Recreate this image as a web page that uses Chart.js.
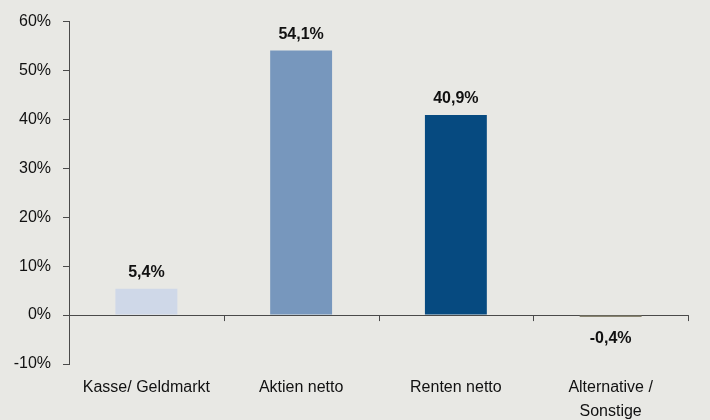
<!DOCTYPE html>
<html>
<head>
<meta charset="utf-8">
<script src="https://cdn.jsdelivr.net/npm/chart.js@4"></script>
<style>
  html, body { margin: 0; padding: 0; background: #e8e8e4; }
  #wrap { width: 710px; height: 420px; }
</style>
</head>
<body>
<div id="wrap"><canvas id="chart" width="710" height="420"></canvas></div>
<script>
const categories = ["Kasse/ Geldmarkt", "Aktien netto", "Renten netto", ["Alternative /", "Sonstige"]];
const values = [5.4, 54.1, 40.9, -0.4];
const barColors = ["#cfd8e8", "#7797bd", "#064a80", "#87836f"];
const yTicks = [-10, 0, 10, 20, 30, 40, 50, 60];

const axisColor = "#4a4a4a";
const fmt = (v) => v.toFixed(1).replace(".", ",") + "%";

// value labels above (or below) each bar
const valueLabels = {
  id: "valueLabels",
  afterDatasetsDraw(chart) {
    const ctx = chart.ctx;
    const meta = chart.getDatasetMeta(0);
    ctx.save();
    ctx.font = "bold 16px 'Liberation Sans', Arial, sans-serif";
    ctx.fillStyle = "#111";
    ctx.textAlign = "center";
    meta.data.forEach((bar, i) => {
      const v = values[i];
      if (v >= 0) {
        ctx.textBaseline = "bottom";
        ctx.fillText(fmt(v), bar.x, bar.y - 8);
      } else {
        ctx.textBaseline = "top";
        ctx.fillText(fmt(v), bar.x, bar.base + 15);
      }
    });
    ctx.restore();
  }
};

// small tick marks at category boundaries on the zero line
const zeroTicks = {
  id: "zeroTicks",
  afterDraw(chart) {
    const ctx = chart.ctx;
    const xs = chart.scales.x;
    const y0 = chart.scales.y.getPixelForValue(0);
    const half = (xs.getPixelForValue(1) - xs.getPixelForValue(0)) / 2;
    ctx.save();
    ctx.strokeStyle = axisColor;
    ctx.lineWidth = 1;
    ctx.beginPath();
    for (let i = 0; i <= categories.length; i++) {
      const px = Math.round(xs.getPixelForValue(i) - half) + 0.5;
      ctx.moveTo(px, y0);
      ctx.lineTo(px, y0 + 6);
    }
    ctx.stroke();
    ctx.restore();
  }
};

new Chart(document.getElementById("chart"), {
  type: "bar",
  data: {
    labels: categories,
    datasets: [{
      data: values,
      backgroundColor: barColors,
      barPercentage: 0.4,
      categoryPercentage: 1.0
    }]
  },
  options: {
    responsive: false,
    animation: false,
    layout: { padding: { top: 16, right: 22, left: 0, bottom: 0 } },
    plugins: { legend: { display: false }, tooltip: { enabled: false } },
    scales: {
      x: {
        grid: { display: false },
        border: { display: false },
        ticks: {
          color: "#111",
          font: { family: "'Liberation Sans', Arial, sans-serif", size: 16, lineHeight: 1.5 },
          padding: 4,
          maxRotation: 0,
          autoSkip: false
        },
        afterFit: (s) => { s.height = 56; }
      },
      y: {
        min: -10,
        max: 60,
        afterBuildTicks: (s) => { s.ticks = yTicks.map((v) => ({ value: v })); },
        grid: {
          color: (c) => (c.tick && c.tick.value === 0 ? axisColor : "rgba(0,0,0,0)"),
          tickColor: axisColor,
          tickLength: 6,
          lineWidth: 1
        },
        border: { display: true, color: axisColor },
        ticks: {
          color: "#111",
          font: { family: "'Liberation Sans', Arial, sans-serif", size: 16 },
          padding: 12,
          callback: (v) => v + "%"
        },
        afterFit: (s) => { s.width = 69; }
      }
    }
  },
  plugins: [valueLabels, zeroTicks]
});
</script>
</body>
</html>
